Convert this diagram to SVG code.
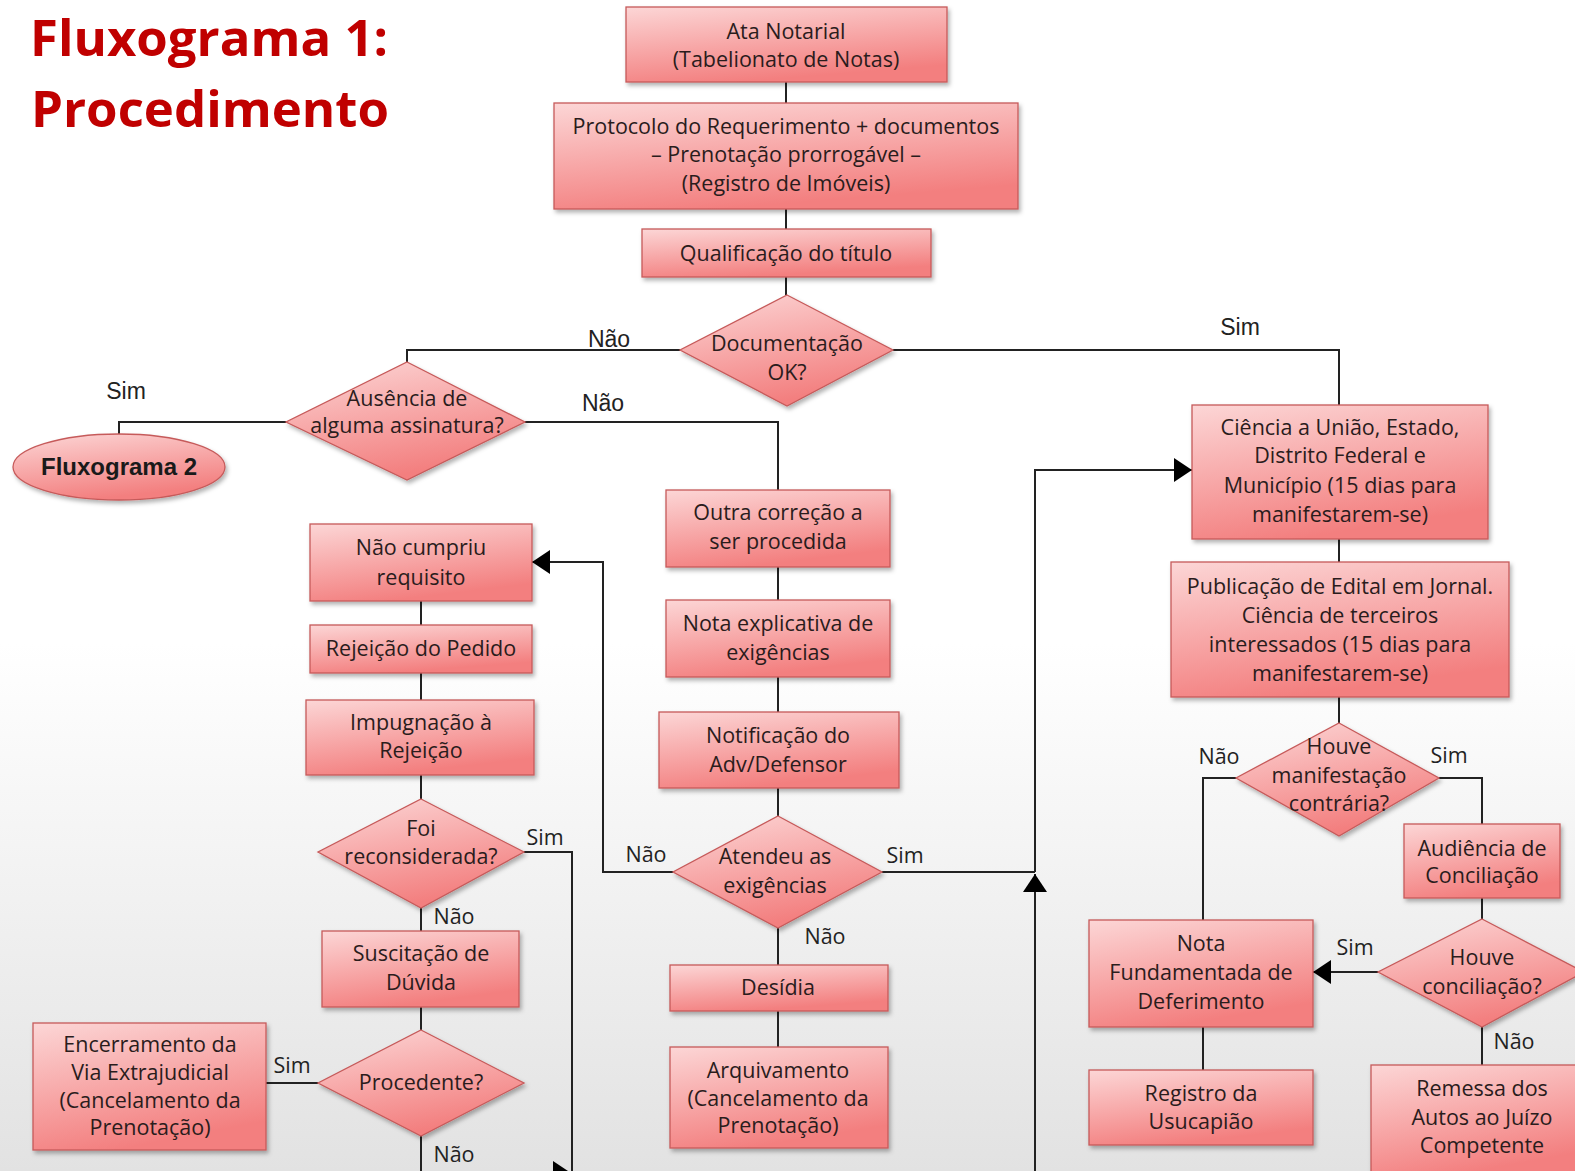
<svg xmlns="http://www.w3.org/2000/svg" width="1575" height="1171" viewBox="0 0 1575 1171">
<defs>
<linearGradient id="bg" x1="0" y1="0" x2="0" y2="1">
<stop offset="0" stop-color="#ffffff"/><stop offset="0.55" stop-color="#ffffff"/><stop offset="1" stop-color="#e2e2e2"/>
</linearGradient>
<linearGradient id="fillG" x1="0" y1="0" x2="0.35" y2="1">
<stop offset="0" stop-color="#fcd6d6"/><stop offset="1" stop-color="#f37f7f"/>
</linearGradient>
<filter id="sh" x="-10%" y="-10%" width="130%" height="140%">
<feDropShadow dx="2" dy="3" stdDeviation="2" flood-color="#000" flood-opacity="0.3"/>
</filter>
<marker id="arr" markerUnits="userSpaceOnUse" markerWidth="20" markerHeight="24" refX="18" refY="12" orient="auto">
<path d="M0,0 L18,12 L0,24 Z" fill="#000"/>
</marker>
<style>
.n{fill:url(#fillG);stroke:#c65a5a;stroke-width:1.3;filter:url(#sh)}
.t{font-family:"Open Sans","Noto Sans",sans-serif;font-size:21.5px;fill:#2a1c1c;text-anchor:middle}
.l{font-family:"Liberation Sans",Arial,sans-serif;font-size:23px;fill:#222;text-anchor:middle}
.lc{font-family:"Open Sans","Noto Sans",sans-serif;font-size:21.5px;fill:#222;text-anchor:middle}
.c{fill:none;stroke:#222;stroke-width:2}
.ttl{font-family:"Open Sans","Noto Sans",sans-serif;font-weight:bold;font-size:50px;fill:#c00000}
</style>
</defs>
<rect width="1575" height="1171" fill="url(#bg)"/>
<g id="title">
<text class="ttl" x="30" y="56" textLength="358" lengthAdjust="spacingAndGlyphs">Fluxograma 1:</text>
<text class="ttl" x="31" y="127" textLength="358" lengthAdjust="spacingAndGlyphs">Procedimento</text>
</g>
<g id="connectors">
<path class="c" d="M786,82 V103 M786,209 V229 M786,277 V295"/>
<path class="c" d="M680,350 H407 V362"/>
<path class="c" d="M893,350 H1339 V405"/>
<path class="c" d="M286,422 H119 V434"/>
<path class="c" d="M525,422 H778 V490"/>
<path class="c" d="M778,567 V600 M778,677 V712 M778,788 V816 M778,928 V965 M778,1011 V1047"/>
<path class="c" d="M673,872 H603 V562 H532" marker-end="url(#arr)"/>
<path class="c" d="M882,872 H1035"/>
<path class="c" d="M1035,872 V470 H1192" marker-end="url(#arr)"/>
<path class="c" d="M1035,1180 V874" marker-end="url(#arr)"/>
<path class="c" d="M421,601 V625 M421,673 V700 M421,775 V799 M421,908 V931 M421,1007 V1030"/>
<path class="c" d="M524,852 H572 V1180"/>
<path class="c" d="M318,1083 H266"/>
<path class="c" d="M421,1136 V1173 H571" marker-end="url(#arr)"/>
<path class="c" d="M1339,539 V562 M1339,697 V723"/>
<path class="c" d="M1236,778 H1203 V920"/>
<path class="c" d="M1439,778 H1482 V824"/>
<path class="c" d="M1482,898 V919 M1482,1027 V1065"/>
<path class="c" d="M1378,972 H1313" marker-end="url(#arr)"/>
<path class="c" d="M1203,1027 V1070"/>
</g>
<g id="labels">
<text class="l" x="126" y="399">Sim</text>
<text class="l" x="609" y="347">Não</text>
<text class="l" x="603" y="411">Não</text>
<text class="l" x="1240" y="335">Sim</text>
<text class="lc" x="646" y="862">Não</text>
<text class="lc" x="905" y="863">Sim</text>
<text class="lc" x="825" y="944">Não</text>
<text class="lc" x="545" y="845">Sim</text>
<text class="lc" x="454" y="924">Não</text>
<text class="lc" x="292" y="1073">Sim</text>
<text class="lc" x="454" y="1162">Não</text>
<text class="lc" x="1219" y="764">Não</text>
<text class="lc" x="1449" y="763">Sim</text>
<text class="lc" x="1355" y="955">Sim</text>
<text class="lc" x="1514" y="1049">Não</text>
</g>
<g id="n-ata"><rect class="n" x="626" y="7" width="321" height="75"/>
<text class="t" x="786" y="39">Ata Notarial</text><text class="t" x="786" y="67">(Tabelionato de Notas)</text></g>
<g id="n-protocolo"><rect class="n" x="554" y="103" width="464" height="106"/>
<text class="t" x="786" y="134">Protocolo do Requerimento + documentos</text>
<text class="t" x="786" y="162">– Prenotação prorrogável –</text>
<text class="t" x="786" y="191">(Registro de Imóveis)</text></g>
<g id="n-qualificacao"><rect class="n" x="642" y="229" width="289" height="48"/>
<text class="t" x="786" y="261">Qualificação do título</text></g>
<g id="n-documentacao"><polygon class="n" points="787,295 893,350 787,406 680,350"/>
<text class="t" x="787" y="351">Documentação</text><text class="t" x="787" y="380">OK?</text></g>
<g id="n-ausencia"><polygon class="n" points="407,362 525,422 407,480 286,422"/>
<text class="t" x="407" y="406">Ausência de</text><text class="t" x="407" y="433">alguma assinatura?</text></g>
<g id="n-fluxograma2"><ellipse class="n" cx="119" cy="467" rx="106" ry="33"/>
<text x="119" y="475" style="font-family:'Liberation Sans',Arial,sans-serif;font-weight:bold;font-size:24px;fill:#1a1a1a;text-anchor:middle">Fluxograma 2</text></g>
<g id="n-outra"><rect class="n" x="666" y="490" width="224" height="77"/>
<text class="t" x="778" y="520">Outra correção a</text><text class="t" x="778" y="549">ser procedida</text></g>
<g id="n-notaexp"><rect class="n" x="666" y="600" width="224" height="77"/>
<text class="t" x="778" y="631">Nota explicativa de</text><text class="t" x="778" y="660">exigências</text></g>
<g id="n-notificacao"><rect class="n" x="659" y="712" width="240" height="76"/>
<text class="t" x="778" y="743">Notificação do</text><text class="t" x="778" y="772">Adv/Defensor</text></g>
<g id="n-atendeu"><polygon class="n" points="778,816 882,872 778,928 673,872"/>
<text class="t" x="775" y="864">Atendeu as</text><text class="t" x="775" y="893">exigências</text></g>
<g id="n-desidia"><rect class="n" x="670" y="965" width="218" height="46"/>
<text class="t" x="778" y="995">Desídia</text></g>
<g id="n-arquivamento"><rect class="n" x="670" y="1047" width="218" height="101"/>
<text class="t" x="778" y="1078">Arquivamento</text><text class="t" x="778" y="1106">(Cancelamento da</text><text class="t" x="778" y="1133">Prenotação)</text></g>
<g id="n-naocumpriu"><rect class="n" x="310" y="524" width="222" height="77"/>
<text class="t" x="421" y="555">Não cumpriu</text><text class="t" x="421" y="585">requisito</text></g>
<g id="n-rejeicao"><rect class="n" x="310" y="625" width="222" height="48"/>
<text class="t" x="421" y="656">Rejeição do Pedido</text></g>
<g id="n-impugnacao"><rect class="n" x="306" y="700" width="228" height="75"/>
<text class="t" x="421" y="730">Impugnação à</text><text class="t" x="421" y="758">Rejeição</text></g>
<g id="n-foi"><polygon class="n" points="421,799 524,852 421,908 318,852"/>
<text class="t" x="421" y="836">Foi</text><text class="t" x="421" y="864">reconsiderada?</text></g>
<g id="n-suscitacao"><rect class="n" x="322" y="931" width="197" height="76"/>
<text class="t" x="421" y="961">Suscitação de</text><text class="t" x="421" y="990">Dúvida</text></g>
<g id="n-procedente"><polygon class="n" points="421,1030 524,1083 421,1136 318,1083"/>
<text class="t" x="421" y="1090">Procedente?</text></g>
<g id="n-encerramento"><rect class="n" x="33" y="1023" width="233" height="127"/>
<text class="t" x="150" y="1052">Encerramento da</text><text class="t" x="150" y="1080">Via Extrajudicial</text><text class="t" x="150" y="1108">(Cancelamento da</text><text class="t" x="150" y="1135">Prenotação)</text></g>
<g id="n-ciencia"><rect class="n" x="1192" y="405" width="296" height="134"/>
<text class="t" x="1340" y="435">Ciência a União, Estado,</text><text class="t" x="1340" y="463">Distrito Federal e</text><text class="t" x="1340" y="493">Município (15 dias para</text><text class="t" x="1340" y="522">manifestarem-se)</text></g>
<g id="n-publicacao"><rect class="n" x="1171" y="562" width="338" height="135"/>
<text class="t" x="1340" y="594">Publicação de Edital em Jornal.</text><text class="t" x="1340" y="623">Ciência de terceiros</text><text class="t" x="1340" y="652">interessados (15 dias para</text><text class="t" x="1340" y="681">manifestarem-se)</text></g>
<g id="n-houve-manif"><polygon class="n" points="1339,723 1439,778 1339,836 1236,778"/>
<text class="t" x="1339" y="754">Houve</text><text class="t" x="1339" y="783">manifestação</text><text class="t" x="1339" y="811">contrária?</text></g>
<g id="n-audiencia"><rect class="n" x="1404" y="824" width="156" height="74"/>
<text class="t" x="1482" y="856">Audiência de</text><text class="t" x="1482" y="883">Conciliação</text></g>
<g id="n-houve-concil"><polygon class="n" points="1482,919 1584,972 1482,1027 1378,972"/>
<text class="t" x="1482" y="965">Houve</text><text class="t" x="1482" y="994">conciliação?</text></g>
<g id="n-nota-fund"><rect class="n" x="1089" y="920" width="224" height="107"/>
<text class="t" x="1201" y="951">Nota</text><text class="t" x="1201" y="980">Fundamentada de</text><text class="t" x="1201" y="1009">Deferimento</text></g>
<g id="n-registro"><rect class="n" x="1089" y="1070" width="224" height="75"/>
<text class="t" x="1201" y="1101">Registro da</text><text class="t" x="1201" y="1129">Usucapião</text></g>
<g id="n-remessa"><rect class="n" x="1371" y="1065" width="212" height="112"/>
<text class="t" x="1482" y="1096">Remessa dos</text><text class="t" x="1482" y="1125">Autos ao Juízo</text><text class="t" x="1482" y="1153">Competente</text></g>
</svg>
